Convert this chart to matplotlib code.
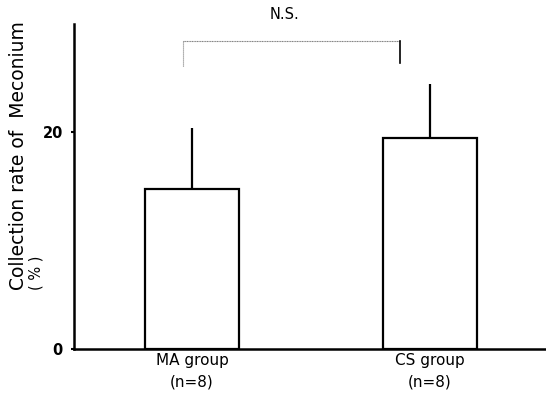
import matplotlib
matplotlib.use("Agg")
import matplotlib.pyplot as plt

groups = ["MA group\n(n=8)", "CS group\n(n=8)"]
rates = [14.8, 19.5]
sd = [5.6, 5.0]
yticks = [0, 20]

narrow = ["DejaVu Sans Condensed", "Liberation Sans Narrow", "DejaVu Sans"]

fig = plt.figure(figsize=(5.46, 4.01), dpi=100)
ax = fig.add_axes([0.1355, 0.1297, 0.8645, 0.8105])

x = [0, 1]
ax.bar(x, rates, width=0.395, color="white", edgecolor="black", linewidth=1.6, zorder=2)
ax.errorbar(x, rates, yerr=[[0, 0], sd], fmt="none", ecolor="black",
            elinewidth=1.6, capsize=0, zorder=1)

ax.set_xlim(-0.496, 1.487)
ax.set_ylim(0, 30)
ax.set_xticks(x)
ax.set_xticklabels(groups, family=narrow, fontsize=11, linespacing=1.55)
ax.set_yticks(yticks)
ax.set_yticklabels([str(t) for t in yticks], family=narrow, fontsize=10.5, fontweight="bold")
ax.tick_params(axis="x", length=0, pad=3)
ax.tick_params(axis="y", length=2, width=1.5, pad=6)

for s in ["top", "right"]:
    ax.spines[s].set_visible(False)
for s in ["left", "bottom"]:
    ax.spines[s].set_linewidth(1.8)

# significance bracket
bx0, bx1, btop = -0.038, 0.874, 28.4
ax.plot([bx0, bx1], [btop, btop], color="gray", lw=0.8, ls=(0, (1, 0.5)), clip_on=False)
ax.plot([bx0, bx0], [btop, 26.0], color="gray", lw=0.8, ls=(0, (1, 0.8)), clip_on=False)
ax.plot([bx1, bx1], [btop, 26.4], color="black", lw=1.2, clip_on=False)
ax.text((bx0 + bx1) / 2 - 0.03, 30.2, "N.S.", ha="center", va="bottom",
        family=narrow, fontsize=10.5)

fig.text(0.016, 0.277, "Collection rate of  Meconium", rotation=90, ha="left", va="bottom",
         fontsize=13.5, family="DejaVu Sans")
fig.text(0.052, 0.277, "( % )", rotation=90, ha="left", va="bottom",
         fontsize=10.5, family="DejaVu Sans")

fig.savefig("out.png", dpi=100)
